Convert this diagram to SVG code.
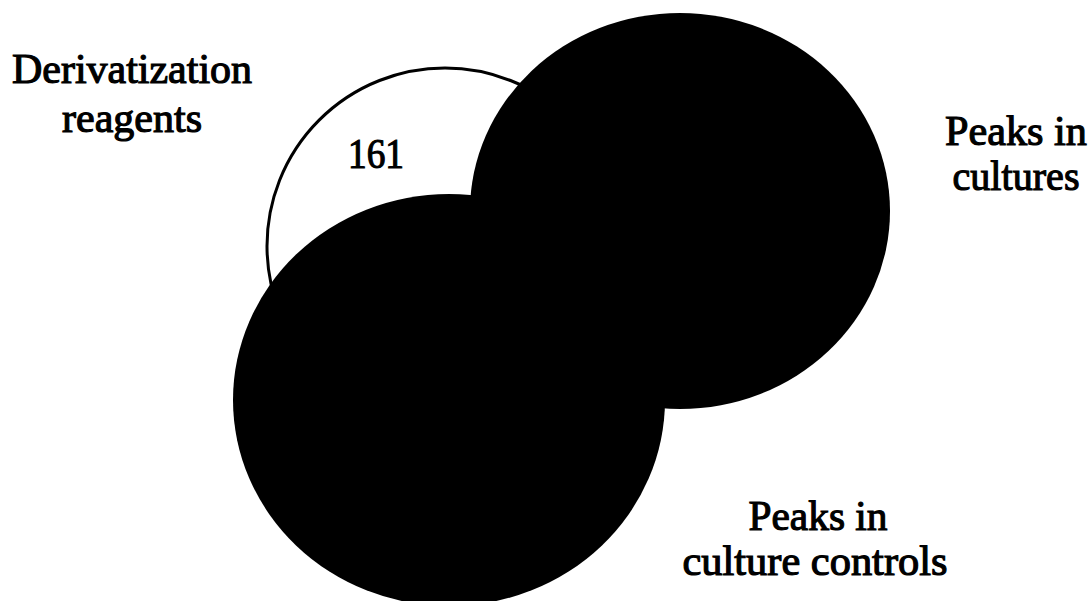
<svg xmlns="http://www.w3.org/2000/svg" width="1092" height="601" viewBox="0 0 1092 601">
  <style>
    .lbl { font-family: "Liberation Serif", "Times New Roman", "DejaVu Serif", serif; font-weight: normal; font-size: 43px; fill: #000; stroke: #000; stroke-width: 1.2; text-anchor: middle; }
    .set-filled { fill: #000; stroke: none; }
    .set-open { fill: #fff; stroke: #000; stroke-width: 3; }
  </style>
  <rect width="1092" height="601" fill="#fff"/>
  <g id="set-derivatization-reagents">
    <ellipse class="set-open" cx="445" cy="246" rx="178" ry="178"/>
    <text class="lbl" x="376" y="168" textLength="56" lengthAdjust="spacingAndGlyphs">161</text>
  </g>
  <g id="set-culture-controls">
    <ellipse class="set-filled" cx="449" cy="400" rx="216" ry="206"/>
  </g>
  <g id="set-cultures">
    <ellipse class="set-filled" cx="680" cy="211" rx="210" ry="198"/>
  </g>
  <g id="connectors"></g>
  <g id="labels">
    <text class="lbl" x="132" y="83" textLength="240" lengthAdjust="spacingAndGlyphs">Derivatization</text>
    <text class="lbl" x="132" y="132" textLength="140" lengthAdjust="spacingAndGlyphs">reagents</text>
    <text class="lbl" x="1016" y="145" textLength="142" lengthAdjust="spacingAndGlyphs">Peaks in</text>
    <text class="lbl" x="1016" y="190" textLength="127" lengthAdjust="spacingAndGlyphs">cultures</text>
    <text class="lbl" x="818" y="530" textLength="139" lengthAdjust="spacingAndGlyphs">Peaks in</text>
    <text class="lbl" x="815" y="575" textLength="265" lengthAdjust="spacingAndGlyphs">culture controls</text>
  </g>
</svg>
